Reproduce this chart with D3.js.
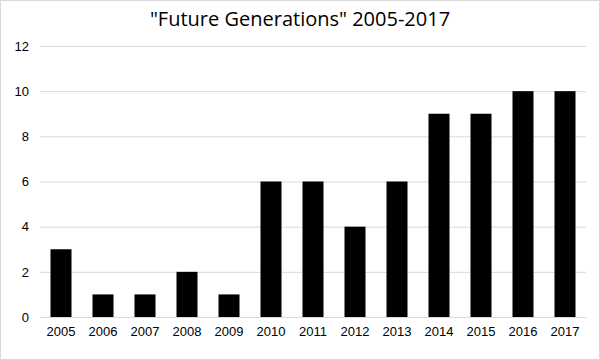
<!DOCTYPE html>
<html><head><meta charset="utf-8">
<script src="https://cdn.jsdelivr.net/npm/d3@7"></script>
<style>body{margin:0;background:#fff}svg{display:block;font-family:"Open Sans","Noto Sans",sans-serif}</style>
</head><body>
<svg id="c" width="600" height="360"></svg>
<script>
const years = ["2005","2006","2007","2008","2009","2010","2011","2012","2013","2014","2015","2016","2017"];
const counts = [3,1,1,2,1,6,6,4,6,9,9,10,10];
const yTicks = [0,2,4,6,8,10,12];
const title = "\"Future Generations\" 2005-2017";

const svg = d3.select("#c");
svg.append("rect").attr("x",0.5).attr("y",0.5).attr("width",599).attr("height",359)
  .attr("fill","#fff").attr("stroke","#d9d9d9");

const m = {l:40, r:14, t:46, b:43};
const W = 600, H = 360;
const x = d3.scaleBand().domain(years).range([m.l, W-m.r]).paddingInner(0.5).paddingOuter(0.25);
const y = d3.scaleLinear().domain([0,12]).range([H-m.b, m.t]);

svg.append("text").attr("x",W/2).attr("y",26).attr("text-anchor","middle")
  .attr("font-size",20).attr("fill","#000").text(title);

const ga = svg.append("g").attr("transform",`translate(${m.l},0)`)
  .call(d3.axisLeft(y).tickValues(yTicks).tickSize(-(W-m.l-m.r)).tickPadding(11));
ga.select(".domain").remove();
ga.selectAll(".tick line").attr("stroke","#d9d9d9");
ga.selectAll(".tick text").attr("font-size",13).attr("fill","#000").attr("font-family","inherit");

svg.append("g").selectAll("rect").data(years).join("rect")
  .attr("x",d=>x(d)).attr("width",x.bandwidth())
  .attr("y",(d,i)=>y(counts[i])).attr("height",(d,i)=>y(0)-y(counts[i]))
  .attr("fill","#000");

const gx = svg.append("g").attr("transform",`translate(0,${y(0)})`)
  .call(d3.axisBottom(x).tickSize(0).tickPadding(10));
gx.select(".domain").attr("stroke","#d9d9d9");
gx.selectAll(".tick text").attr("font-size",13).attr("fill","#000").attr("font-family","inherit");
</script>
</body></html>
